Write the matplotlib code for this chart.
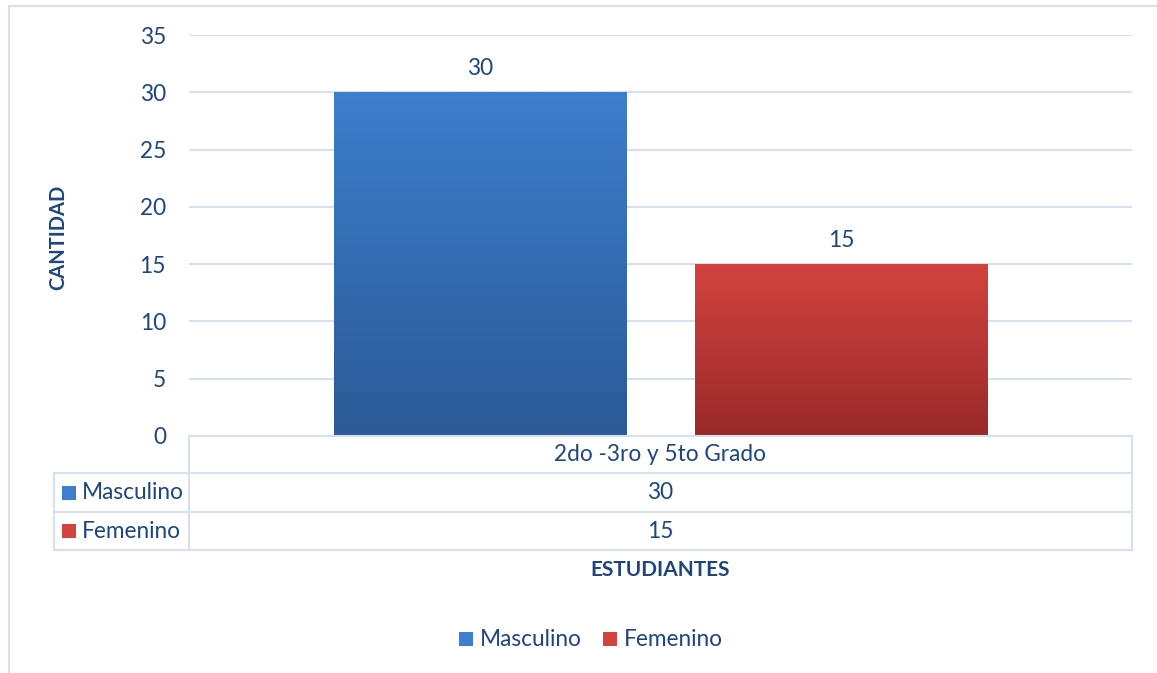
import numpy as np
import matplotlib
matplotlib.use("Agg")
import matplotlib.pyplot as plt
from matplotlib.patches import Rectangle
from matplotlib.lines import Line2D
from matplotlib.colors import LinearSegmentedColormap

categories = ["2do -3ro y 5to Grado"]
series_names = ["Masculino", "Femenino"]
masculino = [30]
femenino = [15]
yticks = [0, 5, 10, 15, 20, 25, 30, 35]
ylabel = "CANTIDAD"
xlabel = "ESTUDIANTES"

W, H = 1157, 673
TXT = "#1F467B"
GRID = "#D5E1F1"
FONT = ["Lato", "DejaVu Sans"]
FS = 16.3
plt.rcParams["font.family"] = FONT

fig = plt.figure(figsize=(W / 100, H / 100), dpi=100)

def fx(x):
    return x / W

def fy(y):
    return 1 - y / H

# outer border (top and left visible)
fig.add_artist(Line2D([fx(9), fx(9)], [fy(6), fy(673)], color=GRID, lw=1.5, transform=fig.transFigure))
fig.add_artist(Line2D([fx(9), fx(1157)], [fy(6), fy(6)], color=GRID, lw=1.5, transform=fig.transFigure))

L, R, T, B = 189, 1132, 35, 436
ax = fig.add_axes([fx(L), fy(B), fx(R) - fx(L), fy(T) - fy(B)])
ax.set_xlim(-0.5, 0.5)
ax.set_ylim(0, 35)
ax.set_yticks(yticks)
ax.set_yticklabels([str(v) for v in yticks])
ax.tick_params(axis="y", length=0, pad=16.5, labelsize=FS, labelcolor=TXT)
ax.set_xticks([])
for s in ax.spines.values():
    s.set_visible(False)
ax.grid(axis="y", color=GRID, lw=1.5)
ax.set_axisbelow(True)

width = 0.3097
offs = [-0.1914, 0.1914]
grads = [("#3D7ECD", "#2B5A96"), ("#D3433F", "#992A29")]
vals = [masculino, femenino]
for i, (name, v) in enumerate(zip(series_names, vals)):
    bars = ax.bar(np.arange(len(categories)) + offs[i], v, width=width, color=grads[i][0], zorder=2)
    for b in bars:
        x0, y0 = b.get_x(), b.get_y()
        w, h = b.get_width(), b.get_height()
        cmap = LinearSegmentedColormap.from_list("g", [grads[i][1], grads[i][0]])
        grad = np.linspace(0, 1, 256).reshape(-1, 1)
        im = ax.imshow(grad, cmap=cmap, extent=[x0, x0 + w, y0, y0 + h], origin="lower",
                       aspect="auto", zorder=3)
        im.set_clip_path(b)
        ax.annotate(str(v[0]), (x0 + w / 2, y0 + h), xytext=(0, 12.2), textcoords="offset points",
                    ha="center", va="baseline", fontsize=FS, color=TXT)
ax.set_xlim(-0.5, 0.5)
ax.set_ylim(0, 35)

# y label
fig.text(fx(58), fy(237), ylabel, rotation=90, ha="center", va="center", fontsize=14.5,
         fontweight="bold", color=TXT)

# data table
rows_y = [436, 473, 512, 550]
TL = 54
def hline(x0, x1, y):
    fig.add_artist(Line2D([fx(x0), fx(x1)], [fy(y), fy(y)], color=GRID, lw=1.5, transform=fig.transFigure))
def vline(x, y0, y1):
    fig.add_artist(Line2D([fx(x), fx(x)], [fy(y0), fy(y1)], color=GRID, lw=1.5, transform=fig.transFigure))

hline(L, R, rows_y[0])
hline(TL, R, rows_y[1])
hline(TL, R, rows_y[2])
hline(TL, R, rows_y[3])
vline(L, rows_y[0], rows_y[3])
vline(R, rows_y[0], rows_y[3])
vline(TL, rows_y[1], rows_y[3])

cx = (L + R) / 2
fig.text(fx(cx), fy((rows_y[0] + rows_y[1]) / 2), categories[0], ha="center", va="center",
         fontsize=FS, color=TXT)
for i, (name, v) in enumerate(zip(series_names, vals)):
    yc = (rows_y[i + 1] + rows_y[i + 2]) / 2
    fig.add_artist(Rectangle((fx(62), fy(yc + 7)), fx(14), 14 / H, transform=fig.transFigure,
                             facecolor=grads[i][0], edgecolor="none"))
    fig.text(fx(82), fy(yc), name, ha="left", va="center", fontsize=FS, color=TXT)
    fig.text(fx(cx), fy(yc), str(v[0]), ha="center", va="center", fontsize=FS, color=TXT)

fig.text(fx(cx), fy(570), xlabel, ha="center", va="center", fontsize=15,
         fontweight="bold", color=TXT)

# legend
leg_x = [459, 603]
for i, name in enumerate(series_names):
    fig.add_artist(Rectangle((fx(leg_x[i]), fy(646)), fx(14), 14 / H, transform=fig.transFigure,
                             facecolor=grads[i][0], edgecolor="none"))
    fig.text(fx(leg_x[i] + 21), fy(639), name, ha="left", va="center", fontsize=FS, color=TXT)

fig.savefig("out.png", dpi=100)
